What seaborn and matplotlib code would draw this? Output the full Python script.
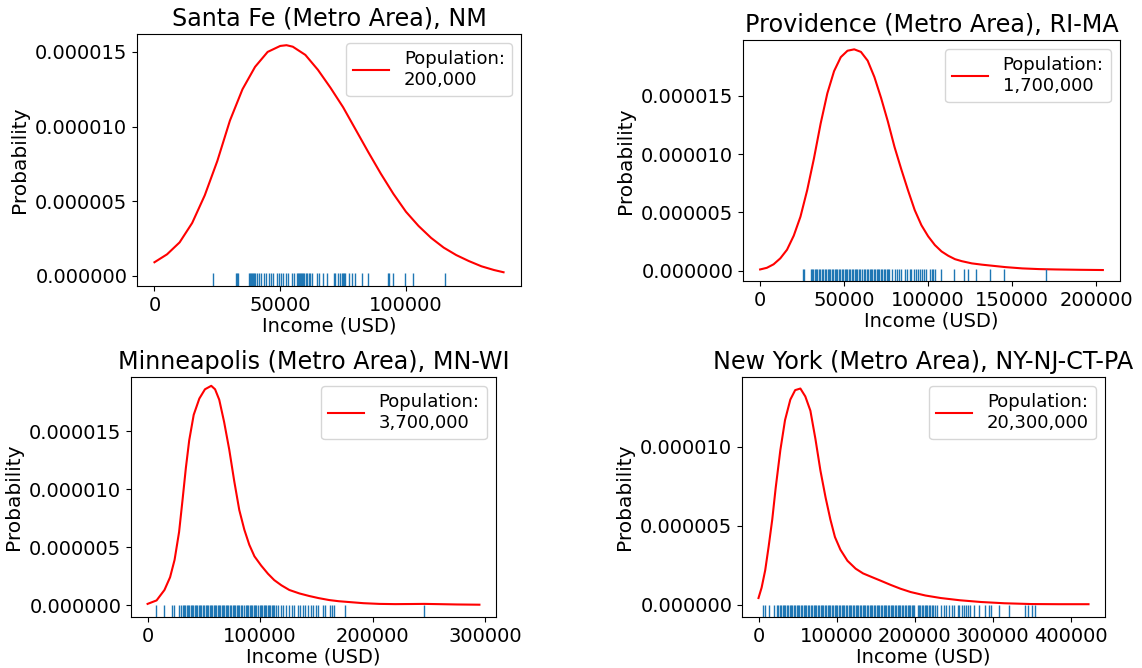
import numpy as np
import matplotlib
matplotlib.use("Agg")
import matplotlib.pyplot as plt
from matplotlib.ticker import FormatStrFormatter, MultipleLocator
import seaborn as sns

# ---------------- data ----------------
titles = ["Santa Fe (Metro Area), NM", "Providence (Metro Area), RI-MA",
          "Minneapolis (Metro Area), MN-WI", "New York (Metro Area), NY-NJ-CT-PA"]
populations = ["200,000", "1,700,000", "3,700,000", "20,300,000"]

# density curves (income USD, density in units of 1e-6)
sf_x = [0, 5000, 10000, 15000, 20000, 25000, 30000, 35000, 40000, 45000, 50000, 52500,
        55000, 60000, 65000, 70000, 75000, 80000, 85000, 90000, 95000, 100000, 105000,
        110000, 115000, 120000, 125000, 130000, 135000, 138800]
sf_y = [0.92, 1.45, 2.25, 3.55, 5.4, 7.7, 10.4, 12.5, 14.0, 15.0, 15.4, 15.45,
        15.35, 14.8, 13.8, 12.6, 11.3, 9.8, 8.3, 6.85, 5.5, 4.3, 3.35,
        2.55, 1.9, 1.4, 1.0, 0.65, 0.4, 0.25]

pr_x = [0, 4000, 8000, 12000, 16000, 20000, 24000, 28000, 32000, 36000, 40000, 44000,
        48000, 52000, 56000, 60000, 64000, 68000, 72000, 76000, 80000, 84000, 88000,
        92000, 96000, 100000, 104000, 108000, 112000, 116000, 120000, 126000, 132000,
        138000, 146000, 156000, 166000, 176000, 190000, 204000]
pr_y = [0.11, 0.25, 0.55, 1.06, 1.8, 3.0, 4.63, 6.9, 9.6, 12.6, 15.2, 17.1,
        18.3, 18.85, 18.97, 18.75, 18.0, 16.6, 14.8, 12.8, 10.6, 8.7, 6.9,
        5.2, 3.9, 2.95, 2.2, 1.65, 1.28, 0.99, 0.82, 0.63, 0.52,
        0.43, 0.31, 0.2, 0.14, 0.11, 0.08, 0.06]

mn_x = [0, 8000, 15000, 20000, 24000, 28000, 31000, 34000, 37000, 41000, 46000, 51000,
        56600, 60000, 63700, 68000, 72600, 77000, 81500, 86000, 90400, 95000, 101000,
        107000, 112600, 119000, 126000, 135000, 143700, 152000, 161500, 170000, 179000,
        192000, 206000, 220000, 235000, 246000, 258000, 275000, 295000]
mn_y = [0.1, 0.4, 1.3, 2.4, 3.9, 6.3, 9.0, 11.8, 14.2, 16.4, 17.8, 18.6,
        18.9, 18.6, 17.7, 15.8, 13.4, 10.7, 8.2, 6.5, 5.2, 4.2, 3.4,
        2.7, 2.15, 1.7, 1.3, 1.0, 0.78, 0.6, 0.43, 0.33, 0.26,
        0.16, 0.1, 0.08, 0.09, 0.1, 0.08, 0.05, 0.03]

ny_x = [0, 4000, 8600, 13000, 17600, 22000, 28000, 34000, 40800, 47000, 53700, 60000,
        66500, 73000, 79400, 86000, 92200, 98000, 105000, 114000, 124500, 134000,
        143700, 156000, 169500, 182000, 195000, 214000, 233700, 258000, 285000,
        315000, 349500, 385000, 423000]
ny_y = [0.44, 1.1, 2.2, 3.7, 5.4, 7.4, 9.8, 11.7, 13.0, 13.6, 13.7, 13.2,
        12.3, 10.5, 8.5, 6.8, 5.4, 4.3, 3.5, 2.8, 2.3, 2.0,
        1.8, 1.55, 1.27, 1.03, 0.82, 0.6, 0.44, 0.3, 0.19,
        0.11, 0.06, 0.05, 0.05]

# rug samples (income USD)
sf_rug = [23200, 32300, 32700, 33100, 37700, 38100, 38500, 38900, 39300, 39700, 40100,
          40700, 41600, 42400, 43400, 44300, 45400, 46400, 47300, 48700, 49600, 50400,
          51300, 52200, 53000, 54600, 55300, 56600, 57000, 57600, 58000, 58300, 58700,
          59100, 59500, 60100, 60600, 61300, 61900, 62600, 64600, 65500, 67200, 68600,
          71200, 71900, 72900, 73900, 74500, 74900, 75500, 75900, 77200, 78500, 79800,
          82500, 85100, 92800, 93400, 94700, 99700, 102600, 115600]

pr_rug = [25600, 26400, 30000, 30800, 31600, 32400, 33300, 34100, 35000, 35800, 36700,
          37500, 38400, 39200, 40100, 40900, 41800, 42600, 43500, 44300, 45200, 46000,
          46900, 47700, 48600, 49400, 50300, 51100, 52000, 52800, 53700, 54500, 55400,
          56200, 57100, 57900, 58800, 59600, 60400, 61700, 62500, 63400, 64200, 65100,
          65900, 66800, 67600, 68500, 69300, 70200, 71000, 71900, 72700, 73600, 74400,
          75300, 76000, 77000, 78500, 80000, 81500, 82700, 84000, 86500, 87500, 89000,
          90000, 91800, 93000, 94000, 95000, 96500, 97500, 99000, 101000, 102000, 103000,
          104000, 107600, 115600, 121600, 123600, 128400, 137000, 145000, 170000]

mn_rug = [7500, 14300, 21700, 23700, 28200, 30000, 31100, 32300, 33400, 34700, 35900,
          37100, 38200, 39500, 40700, 41900, 43000, 44300, 45500, 46700, 47800, 49100,
          50300, 51500, 52600, 53900, 55100, 56300, 57400, 58700, 59900, 61100, 62200,
          63500, 64700, 65900, 67000, 68300, 69500, 70700, 71800, 73100, 74300, 75500,
          76600, 77900, 79100, 80300, 81400, 82700, 83900, 86000, 87200, 88400, 89600,
          90800, 92000, 93200, 94400, 95600, 96400, 98400, 99600, 100800, 102000, 103200,
          104400, 105600, 106800, 108000, 109200, 110400, 111600, 112800, 114100, 115600,
          118600, 120000, 123000, 126000, 128000, 130400, 133400, 135500, 137800, 140000,
          142200, 145200, 147300, 149700, 151100, 156200, 158000, 162100, 163900, 166000,
          175100, 246000]

ny_rug = [5200, 7700, 12900, 19300, 23700, 25400, 27300, 29000, 30900, 32800, 34500,
          36300, 38000, 39900, 41800, 43500, 45300, 47000, 48900, 50800, 52500, 54300,
          56000, 57900, 59800, 61500, 63300, 65000, 66900, 68800, 70500, 72300, 74000,
          75900, 77800, 79500, 81300, 83000, 84900, 86800, 88500, 90300, 92000, 93900,
          95800, 97500, 99300, 101000, 102900, 104800, 106500, 108300, 110000, 111900,
          113800, 115500, 117300, 119000, 120900, 122800, 124500, 126300, 128000, 129900,
          131800, 133500, 135300, 137000, 138900, 140800, 142500, 144300, 146000, 147900,
          149800, 151500, 153300, 155000, 156900, 158800, 160500, 162300, 164000, 165900,
          167800, 169500, 171300, 173000, 174900, 176800, 178500, 180300, 182000, 183900,
          185800, 187500, 188800, 191000, 192800, 194600, 196400, 198200, 199500, 203900,
          205700, 207500, 209300, 211100, 212900, 214700, 216500, 218300, 220100, 221900,
          223200, 226500, 229000, 233800, 238000, 240500, 244500, 247500, 250500, 255300,
          257500, 261000, 263500, 265500, 268000, 271200, 276700, 283100, 290000, 295200,
          297500, 308900, 321000, 341000, 345000, 351000, 353900]

curves_x = [sf_x, pr_x, mn_x, ny_x]
curves_y = [sf_y, pr_y, mn_y, ny_y]
rugs = [sf_rug, pr_rug, mn_rug, ny_rug]

# ---------------- figure ----------------
W, H = 1142, 668
fig = plt.figure(figsize=(W / 100, H / 100), dpi=100)

# axes boxes in pixels: left, top, right, bottom
boxes = [(137, 34, 521, 286), (743, 40, 1120, 281),
         (131, 377, 496, 617), (742, 377, 1105, 617)]
ylims = [(-0.67e-6, 16.2e-6), (-0.88e-6, 19.77e-6),
         (-1.03e-6, 19.66e-6), (-0.76e-6, 14.43e-6)]
xsteps = [50000, 50000, 100000, 100000]

for i in range(4):
    l, t, r, b = boxes[i]
    ax = fig.add_axes([l / W, 1 - b / H, (r - l) / W, (b - t) / H])
    sns.lineplot(x=np.array(curves_x[i]), y=np.array(curves_y[i]) * 1e-6, ax=ax,
                 color="red", lw=1.5, sort=False, estimator=None,
                 label="Population:\n" + populations[i])
    sns.rugplot(x=rugs[i], ax=ax, height=0.05, color="#1f77b4", lw=1.4)
    ax.set_ylim(*ylims[i])
    ax.xaxis.set_major_locator(MultipleLocator(xsteps[i]))
    ax.yaxis.set_major_locator(MultipleLocator(5e-6))
    ax.yaxis.set_major_formatter(FormatStrFormatter("%.6f"))
    ax.set_title(titles[i], fontsize=17.2)
    ax.set_xlabel("Income (USD)", fontsize=14, labelpad=1)
    ax.set_ylabel("Probability", fontsize=14.5)
    ax.tick_params(labelsize=14)
    ax.legend(loc="upper right", fontsize=13)

fig.savefig("out.png", dpi=100)
